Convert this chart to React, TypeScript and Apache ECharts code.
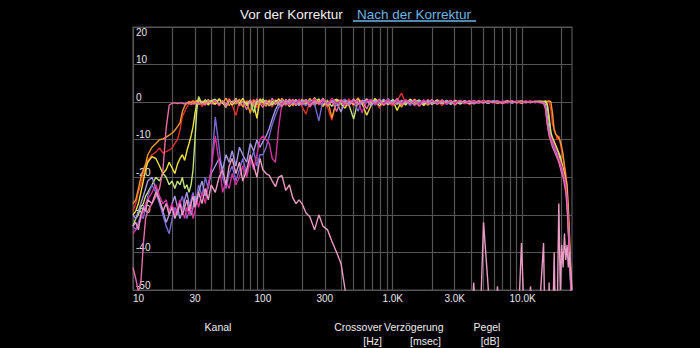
import React, { useEffect, useRef } from "react";
import * as echarts from "echarts";

// Frequency grid (Hz), shared by every channel
const FREQ = [
  10, 10.5, 11, 11.5, 12, 12.5, 13, 14, 15, 16, 17, 18, 19, 20, 21, 22, 23, 24, 25, 26, 27, 28, 29, 30, 31, 32, 34, 36, 38, 40,
  43, 46, 49, 52, 55, 58, 62, 66, 70, 75, 80, 85, 90, 95, 100, 106, 112, 118, 125, 132, 140, 150, 160, 170, 180, 190, 200,
  215, 230, 250, 270, 290, 315, 340, 370, 400, 430, 460, 500, 540, 580, 630, 680, 730, 790, 850, 920, 1000, 1080, 1170, 1260,
  1360, 1470, 1600, 1730, 1870, 2000, 2200, 2400, 2600, 2800, 3000, 3300, 3600, 3900, 4200, 4600, 5000, 5400, 5900, 6400,
  7000, 7600, 8300, 9000, 9800, 10600, 11500, 12500, 13500, 14500,
  15000, 15500, 16000, 16500, 17000, 17500, 18000, 18500, 19000, 19500, 20000, 20500, 21000, 21500, 22000, 22500, 23000, 23500, 24000,
];

const X_LABELS = [10, 30, 100, 300, 1000, 3000, 10000];
const X_GRID = [10, 20, 30, 40, 50, 60, 70, 80, 90, 100, 200, 300, 400, 500, 600, 700, 800, 900, 1000, 2000, 3000, 4000, 5000, 6000, 7000, 8000, 9000, 10000, 20000];
const X_MAX = 24000;
const Y_MIN = -50;
const Y_MAX = 20;
const Y_STEP = 10;

const TAB_LABELS = ["Vor der Korrektur", "Nach der Korrektur"];
const FOOTER_TOP = ["Kanal", "Crossover", "Verzögerung", "Pegel"];
const FOOTER_BOTTOM = ["[Hz]", "[msec]", "[dB]"];

const RED = [
  -29, -27, -24, -22, -19, -17, -15.5, -14, -13.3, -12.2, -13.6, -13.2, -12.8, -12.2, -11, -10, -7.4, -3.8, -2.5, -1.3, -0.4, 0.3, -0.6, 0.4, -0.3, 0.6, -1.2, 0.2, -0.5, 0.3,
  0.4, -1.0, 0.3, -0.6, 1.0, -0.8, -3.5, 0.2, -1.1, 0.5, -0.4, 0.8, -1.5, 0.1, -0.7, 0.6, -0.2, -1.3, 0.7, -0.5, 0.3, -1.0, 0.9, -0.3, -0.8, 0.5, -1.2,
  -3.2, 0.4, -0.9, 0.6, -0.3, -1.4, -4.8, 0.7, 0.2, -0.6, 0.9, -1.1, 0.3, -0.5, 1.0, -0.8, 0.4, -1.6, 0.6, -0.2, -0.9, 0.5, 2.4, -0.4, 0.7,
  -1.0, 0.3, -0.6, 0.8, -0.3, 0.5, -0.9, 0.2, -0.4, 0.6, -0.2, 0.4, -0.7, 0.3, -0.3, 0.5, -0.2, 0.3, -0.4, 0.2, 0.4, -0.2, 0.3, 0.1, -0.2, 0.3, 0.0, 0.2, 0.1,
  0.2, 0.1, 0.0, -2, -6, -7, -8.5, -10, -9, -11, -13, -15, -17, -19, -23, -30, -38, -46, -56,
];

const ORANGE = [
  -27, -26, -23, -20, -18, -16.5, -14, -12, -11, -10, -9.8, -9.3, -8.8, -8.2, -7.5, -6.5, -5.5, -2.5, -1, -0.3, 0.2, -0.3, 0.4, -0.2, 0.5, -0.6, 0.3, -0.4, 0.7, -0.3,
  -0.6, 0.7, -0.4, 1.1, -0.9, 0.3, -0.5, 0.8, -1.3, 0.2, -3.0, 0.5, -0.7, 0.9, -0.2, -1.1, 0.6, -0.4, 0.3, -0.8, 1.0, -0.3, 0.5, -1.0, 0.4, -0.6, 0.8,
  -0.5, 1.0, -0.8, 0.3, -1.2, 0.6, -4.2, 0.4, 0.5, -0.9, 0.2, -0.6, 1.1, -0.3, 0.4, -1.0, 0.7, -0.2, -0.7, 0.9, -0.4, 0.3, -1.3, 0.6, -0.5,
  0.8, -0.3, 0.4, -0.8, 0.2, -0.4, 0.6, -0.5, 0.3, -0.2, 0.5, -0.4, 0.2, -0.3, 0.4, -0.2, 0.3, 0.1, -0.3, 0.2, 0.0, 0.3, -0.2, 0.1, 0.2, -0.1, 0.2, 0.3, 0.1,
  0.3, 0.2, 0.3, 0.1, -3, -7.5, -8.5, -9, -9.5, -10.5, -12, -14, -17, -20, -22, -28, -36, -45, -54,
];

const YELLOW = [
  -30, -29, -27, -24, -21, -18, -16, -14.5, -15, -17, -19, -18, -16, -17.5, -19, -16.5, -15, -14, -15.5, -13, -11, -9, -6.5, -3, -0.5, 0.8, -0.4, 0.6, -0.8, 0.3,
  -0.5, 0.9, -0.2, -1.4, 0.6, -0.8, 0.4, -0.3, 1.0, -0.9, 0.2, -0.5, -4.3, 0.7, -0.1, 0.5, -1.0, 0.3, -0.6, 0.9, -0.4, 0.6, -1.2, 0.1, 0.7, -0.8, 0.4,
  0.3, -0.7, 1.2, -0.4, 0.6, -1.0, 0.2, 0.8, -0.5, -1.6, 0.4, -0.6, 0.7, -0.3, -3.5, -0.9, 1.0, -0.2, 0.4, -0.7, 0.6, -2.2, 0.3, -0.5, 0.8,
  -0.2, 0.5, -0.9, 0.3, -0.4, 0.6, -0.3, 0.2, -0.6, 0.4, -0.1, 0.3, -0.4, 0.2, -0.2, 0.4, -0.3, 0.2, 0.0, -0.2, 0.3, -0.1, 0.2, -0.3, 0.1, 0.2, -0.1, 0.1, 0.2,
  0.1, -0.5, -4, -8, -9.5, -10.5, -11.5, -12.5, -13.5, -14.5, -16, -17.5, -19, -21, -25, -32, -40, -48, -57,
];

const GREEN = [
  -33, -31, -30, -28, -27, -25, -24, -22, -20, -21, -19, -20, -22, -21, -23, -21, -22, -20, -23, -22, -24, -22, -18, -10, -2, 1.5, -0.5, 0.6, -0.3, 0.4,
  0.8, -0.6, 0.3, -0.9, 0.5, -0.2, 1.0, -0.7, 0.2, -0.4, 0.6, -2.8, 0.4, -0.3, 0.9, -0.5, 0.2, -0.8, 0.5, -0.2, -1.3, 0.7, -0.4, 0.3, -0.9, 0.6, -0.3,
  -0.6, 0.5, -0.3, 0.9, -0.8, 0.2, -1.1, 0.6, -0.4, 0.3, -0.7, -4.5, 0.4, -0.5, 0.8, -0.3, 0.6, -1.0, 0.2, -0.5, 0.7, -0.4, 0.3, -0.8, 0.5,
  -0.2, 0.6, -0.5, 0.3, -0.6, 0.2, -0.4, 0.5, -0.2, 0.3, -0.5, 0.2, -0.3, 0.4, -0.1, 0.2, -0.3, 0.3, -0.1, 0.0, 0.2, -0.2, 0.1, 0.3, -0.1, 0.1, 0.2, 0.0, 0.1,
  0.2, -1, -5, -8.5, -10, -11, -12, -13, -14, -15.5, -17, -18.5, -20, -22, -26, -33, -41, -49, -58,
];

const PURPLE = [
  -33, -34, -32, -30, -31, -28, -25, -22, -24, -27, -30, -33, -35, -31, -28, -30, -27, -25, -28, -31, -29, -26, -24, -27, -25, -22, -25, -20, -23, -18,
  -4, -12, -20, -23, -19, -17, -21, -18, -15, -19, -16, -13, -17, -14, -14, -12, -9, -6, -3.5, -1.5, -0.3, 0.5, -0.8, 0.3, -0.5, 0.8, -0.4,
  -0.9, 0.4, -0.6, -5.0, 0.7, -0.3, 0.5, -1.0, 0.2, 0.8, -0.5, 0.3, -2.4, 0.6, -0.2, 0.4, -0.8, 0.3, -0.4, 0.9, -0.6, 0.2, -0.3, 0.5, -0.9,
  0.4, -0.2, 0.6, -0.5, 0.3, -0.3, 0.4, -0.6, 0.2, -0.1, 0.3, -0.4, 0.2, 0.1, -0.3, 0.2, -0.2, 0.3, -0.1, 0.2, -0.2, 0.1, 0.2, -0.1, 0.0, 0.2, -0.1, 0.1, -0.4,
  -1, -5, -8, -10, -11, -12.5, -13, -14.5, -15.5, -17, -18, -19, -21, -23, -27, -34, -42, -50, -58,
];

const LAVENDER = [
  -30, -31, -29, -27, -25, -23, -21, -20, -23, -26, -29, -32, -30, -27, -25, -28, -31, -29, -26, -24, -27, -30, -28, -25, -27, -24, -21, -25, -22, -19,
  -17, -15, -18, -14, -16, -13, -17, -12, -14, -16, -11, -13, -10, -12, -10.5, -9, -7, -4.5, -2, -0.5, 0.4, -0.6, 0.7, -0.3, 0.5, -0.9, 0.3,
  0.6, -0.8, 0.2, -0.4, 0.9, -0.6, 0.3, -0.2, -2.6, 0.5, -0.3, 0.7, -0.5, 0.2, 0.6, -0.9, 0.4, -0.3, 0.8, -0.4, 0.3, -0.6, 0.5, -0.2, 0.4,
  -0.7, 0.3, -0.2, 0.5, -0.4, 0.3, -0.2, 0.4, -0.5, 0.2, -0.1, 0.3, -0.2, -0.3, 0.2, 0.1, -0.2, 0.2, 0.3, -0.1, 0.2, -0.2, 0.1, 0.0, 0.2, -0.1, 0.2, 0.1, -0.2,
  -0.5, -4, -7.5, -9.5, -10.5, -11.5, -12.5, -14, -15, -16, -17.5, -19, -20.5, -22, -26, -32, -39, -47, -55,
];

const MAGENTA = [
  -35, -34, -33, -31, -29, -27, -26, -24, -22, -25, -27, -26, -29, -27, -30, -28, -26, -29, -31, -28, -30, -27, -31, -29, -26, -28, -24, -27, -22, -18,
  -9, -16, -24, -21, -23, -19, -22, -20, -17, -20, -15, -18, -14, -10, -9, -10, -11, -15, -16, -7, -0.5, 0.6, -0.8, 0.4, -0.3, 0.7, -0.6,
  0.5, -0.4, 0.9, -0.7, 0.3, -0.5, 1.0, -0.3, 0.4, -0.8, 0.6, -0.2, 0.5, -2.8, 0.3, 0.7, -0.5, 0.2, -0.3, 0.6, -0.8, 0.4, -0.2, 0.7, -0.4,
  0.2, -0.5, 0.6, -0.3, 0.4, -0.2, 0.5, -0.4, 0.3, -0.2, 0.4, -0.3, 0.1, 0.3, -0.2, 0.3, 0.1, -0.2, 0.2, 0.0, -0.2, 0.2, 0.1, -0.1, 0.3, 0.0, 0.1, -0.2, -0.1,
  -2, -6, -8.5, -9.5, -10.5, -11.5, -12.5, -13.5, -15, -16, -17, -18.5, -20, -22, -26, -33, -40, -46, -55,
];

const PINK = [
  -44, -47, -50.5, -48, -38, -31, -29, -27, -25, -23, -18, -7, -0.8, -0.3, -0.2, -0.4, -0.2, -0.3, -0.5, -0.2, -0.4, -0.6, -0.3, -0.5, -0.2, -0.6, -0.3, -0.8, 0.3, -0.4,
  0.5, -0.8, 0.3, -1.2, 0.6, -0.4, 0.8, -1.0, 0.2, -2.0, 0.5, -0.6, 0.9, -0.3, -1.4, 0.4, -0.7, 1.0, -0.5, 0.3, -1.1, 0.6, -0.4, 0.8, -0.9, 0.2, -0.6,
  0.7, -1.3, 0.4, -0.5, 1.1, -0.8, 0.3, -2.5, 0.6, -0.2, -1.0, 0.9, -0.6, 0.4, -1.8, 0.5, -0.3, 0.8, -0.9, 0.2, -0.5, 1.0, -0.7, 0.3, -0.4,
  0.6, -1.1, 0.2, -0.3, 0.7, -0.6, 0.4, -0.2, 0.5, -0.8, 0.3, -0.1, 0.4, -0.5, 0.2, -0.3, 0.4, -0.1, 0.2, -0.4, 0.1, 0.3, -0.2, 0.2, 0.0, -0.1, 0.2, 0.0, -0.3,
  -1.5, -6, -9, -10.5, -12, -13, -14, -15, -16, -17.5, -19, -20, -22, -24, -28, -35, -42, -48, -54,
];

const LIGHT_PINK = [
  -33, -32, -34, -30, -28, -29, -26, -27, -24, -26, -29, -27, -30, -28, -31, -29, -27, -30, -28, -26, -29, -27, -25, -28, -26, -24, -27, -23, -26, -22,
  -24, -20, -18, -22, -17, -15, -19, -16, -21, -18, -14, -17, -20, -15, -18, -19, -19.5, -21, -22.5, -20, -19.5, -23.5, -22, -25.5, -27, -26, -27,
  -29.5, -30.5, -34, -30, -33, -34, -37, -40, -43, -50, -70, -70, -70, -70, -70, -70, -70, -70, -70, -70, -70, -70, -70, -70, -70,
  -70, -70, -70, -70, -70, -70, -70, -70, -70, -70, -70, -70, -70, -48, -70, -32, -48, -70, -49, -70, -70, -70, -70, -37.5, -70, -49, -70, -55, -37.5,
  -70, -70, -48, -70, -62, -40, -65, -55, -27, -50, -38, -44, -35, -42, -38, -44, -40, -45, -50,
];

const CHANNELS = [
  { name: "Rot", color: "#e2302b", values: RED },
  { name: "Orange", color: "#f29a2e", values: ORANGE },
  { name: "Gelb", color: "#efe03c", values: YELLOW },
  { name: "Grün", color: "#bfe07a", values: GREEN },
  { name: "Violett", color: "#7867cf", values: PURPLE },
  { name: "Lavendel", color: "#a597e2", values: LAVENDER },
  { name: "Magenta", color: "#d2329a", values: MAGENTA },
  { name: "Rosa", color: "#e56da4", values: PINK },
  { name: "Hellrosa", color: "#e99bc3", values: LIGHT_PINK },
];

const FONT = "Liberation Sans, Arial, sans-serif";

function fmtFreq(v: number): string {
  const f = Math.pow(10, v);
  if (f >= 999) return (f / 1000).toFixed(1) + "K";
  return String(Math.round(f));
}

export default function App() {
  const ref = useRef<HTMLDivElement>(null);
  useEffect(() => {
    if (!ref.current) return;
    const chart = echarts.init(ref.current, undefined, { renderer: "svg" });
    const series = CHANNELS.map((c) => ({
      name: c.name,
      type: "line",
      showSymbol: false,
      symbol: "none",
      clip: true,
      lineStyle: { color: c.color, width: 1.4 },
      itemStyle: { color: c.color },
      data: FREQ.map((f, i) => [Math.log10(f), c.values[i]]),
    }));
    const footerTop = [
      { x: 218, align: "center" },
      { x: 382, align: "right" },
      { x: 384, align: "left" },
      { x: 487, align: "center" },
    ];
    const footerBottom = [
      { x: 382, align: "right" },
      { x: 441, align: "right" },
      { x: 490, align: "center" },
    ];
    const option: any = {
      animation: false,
      backgroundColor: "#000",
      grid: {
        left: 133,
        right: 128,
        top: 27,
        bottom: 58,
        show: true,
        borderColor: "#555",
        borderWidth: 1.2,
        backgroundColor: "transparent",
      },
      xAxis: {
        type: "value",
        min: 1,
        max: Math.log10(X_MAX),
        axisLine: { show: false },
        axisTick: { show: false, customValues: X_GRID.map((v) => Math.log10(v)) },
        splitLine: { show: true, lineStyle: { color: "#555", width: 1.2 } },
        axisLabel: {
          customValues: X_LABELS.map((v) => Math.log10(v)),
          formatter: (v: number) => fmtFreq(v),
          color: "#e8e8e8",
          fontSize: 10,
          fontFamily: FONT,
          margin: 3,
          alignMinLabel: "left",
        },
      },
      yAxis: [
        {
          type: "value",
          min: Y_MIN,
          max: Y_MAX,
          interval: Y_STEP,
          axisLine: { show: false },
          axisTick: { show: false },
          splitLine: { show: true, lineStyle: { color: "#555", width: 1.2 } },
          axisLabel: {
            inside: true,
            margin: 3,
            verticalAlign: "bottom",
            color: "#e8e8e8",
            fontSize: 10,
            fontFamily: FONT,
            formatter: (v: number) => (v === Y_MAX ? "" : String(v)),
          },
        },
        {
          type: "value",
          position: "left",
          min: Y_MIN,
          max: Y_MAX,
          interval: Y_STEP,
          axisLine: { show: false },
          axisTick: { show: false },
          splitLine: { show: false },
          axisLabel: {
            inside: true,
            margin: 3,
            verticalAlign: "top",
            color: "#e8e8e8",
            fontSize: 10,
            fontFamily: FONT,
            formatter: (v: number) => (v === Y_MAX ? String(v) : ""),
          },
        },
      ],
      series,
      graphic: [
        {
          type: "text",
          x: 240,
          y: 14,
          style: { text: TAB_LABELS[0], fill: "#f2f2f2", font: `13.5px ${FONT}`, align: "left", verticalAlign: "middle" },
        },
        {
          type: "text",
          x: 357,
          y: 14,
          style: { text: TAB_LABELS[1], fill: "#6db6e6", font: `13.5px ${FONT}`, align: "left", verticalAlign: "middle" },
        },
        {
          type: "line",
          shape: { x1: 353, y1: 21, x2: 476, y2: 21 },
          style: { stroke: "#6db6e6", lineWidth: 1.5 },
        },
        ...FOOTER_TOP.map((t, i) => ({
          type: "text",
          x: footerTop[i].x,
          y: 327,
          style: { text: t, fill: "#eeeeee", font: `10.5px ${FONT}`, align: footerTop[i].align, verticalAlign: "middle" },
        })),
        ...FOOTER_BOTTOM.map((t, i) => ({
          type: "text",
          x: footerBottom[i].x,
          y: 341,
          style: { text: t, fill: "#eeeeee", font: `10.5px ${FONT}`, align: footerBottom[i].align, verticalAlign: "middle" },
        })),
      ],
    };
    chart.setOption(option);
    return () => chart.dispose();
  }, []);
  return (
    <div
      ref={ref}
      style={{ position: "fixed", left: 0, top: 0, width: 700, height: 348, background: "#000" }}
    />
  );
}
